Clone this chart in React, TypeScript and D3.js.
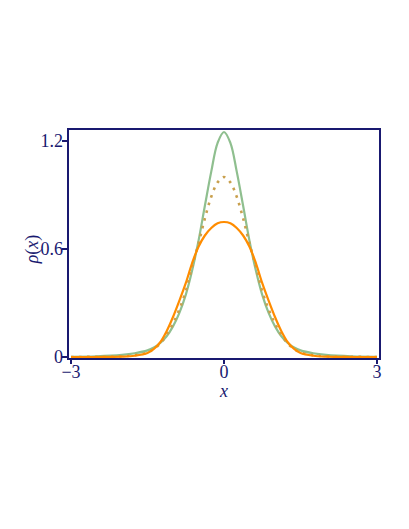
import React from "react";
import * as d3 from "d3";

const xs = [-3, -2.5, -2, -1.75, -1.5, -1.375, -1.25, -1.125, -1, -0.875, -0.75, -0.625, -0.5, -0.375, -0.25, -0.125, 0,
  0.125, 0.25, 0.375, 0.5, 0.625, 0.75, 0.875, 1, 1.125, 1.25, 1.375, 1.5, 1.75, 2, 2.5, 3];

const greenVals = [0.0015, 0.004, 0.012, 0.021, 0.037, 0.053, 0.078, 0.115, 0.17, 0.245, 0.345, 0.48, 0.645, 0.84, 1.03, 1.19, 1.25,
  1.19, 1.03, 0.84, 0.645, 0.48, 0.345, 0.245, 0.17, 0.115, 0.078, 0.053, 0.037, 0.021, 0.012, 0.004, 0.0015];

const dottedVals = [0, 0.001, 0.004, 0.01, 0.025, 0.045, 0.075, 0.122, 0.185, 0.265, 0.365, 0.5, 0.63, 0.77, 0.89, 0.97, 1.0,
  0.97, 0.89, 0.77, 0.63, 0.5, 0.365, 0.265, 0.185, 0.122, 0.075, 0.045, 0.025, 0.01, 0.004, 0.001, 0];

const orangeVals = [0, 0, 0.002, 0.007, 0.022, 0.045, 0.082, 0.143, 0.222, 0.313, 0.41, 0.522, 0.613, 0.675, 0.717, 0.743, 0.75,
  0.743, 0.717, 0.675, 0.613, 0.522, 0.41, 0.313, 0.222, 0.143, 0.082, 0.045, 0.022, 0.007, 0.002, 0, 0];

const xTicks = [-3, 0, 3];
const yTicks = [0, 0.6, 1.2];
const xTickLabels = ["\u22123", "0", "3"];
const yTickLabels = ["0", "0.6", "1.2"];

const NAVY = "#191970";
const FONT = "Liberation Serif, Times New Roman, Times, serif";

export default function App() {
  const W = 409, H = 529;
  const x = d3.scaleLinear().domain([-3, 3]).range([71, 377]);
  const y = d3.scaleLinear().domain([0, 1.2]).range([357, 141]);
  const frame = { l: 68, r: 380, t: 129, b: 359 };

  const mk = (vals: number[]) =>
    d3.line<number>()
      .x((_, i) => x(xs[i]))
      .y((v) => y(v))
      .curve(d3.curveCatmullRom.alpha(0.5))(vals) as string;

  return (
    <svg width={W} height={H} style={{ position: "absolute", left: 0, top: 0, background: "#fff" }}>
      <path d={mk(greenVals)} fill="none" stroke="#8fbf8f" strokeWidth={2.2} />
      <path d={mk(dottedVals)} fill="none" stroke="#c9a04e" strokeWidth={2.6} strokeDasharray="2.6 5.4" />
      <path d={mk(orangeVals)} fill="none" stroke="#ff8c00" strokeWidth={2.2} />
      <rect x={frame.l} y={frame.t} width={frame.r - frame.l} height={frame.b - frame.t}
        fill="none" stroke={NAVY} strokeWidth={2} />
      {yTicks.map((t, i) => (
        <g key={"y" + i}>
          <line x1={frame.l - 6} x2={frame.l} y1={y(t)} y2={y(t)} stroke={NAVY} strokeWidth={2} />
          <text x={frame.l - 5} y={y(t)} dy="0.35em" textAnchor="end" fontFamily={FONT} fontSize={18} fill={NAVY}>
            {yTickLabels[i]}
          </text>
        </g>
      ))}
      {xTicks.map((t, i) => (
        <g key={"x" + i}>
          <line x1={x(t)} x2={x(t)} y1={frame.b} y2={frame.b + 5} stroke={NAVY} strokeWidth={2} />
          <text x={x(t)} y={frame.b + 19} textAnchor="middle" fontFamily={FONT} fontSize={18} fill={NAVY}>
            {xTickLabels[i]}
          </text>
        </g>
      ))}
      <text x={x(0)} y={397} textAnchor="middle" fontFamily={FONT} fontSize={18} fontStyle="italic" fill={NAVY}>x</text>
      <text transform={`translate(38,${y(0.6)}) rotate(-90)`} textAnchor="middle" fontFamily={FONT} fontSize={18} fill={NAVY}>
        <tspan fontStyle="italic">ρ</tspan>(<tspan fontStyle="italic">x</tspan>)
      </text>
    </svg>
  );
}
